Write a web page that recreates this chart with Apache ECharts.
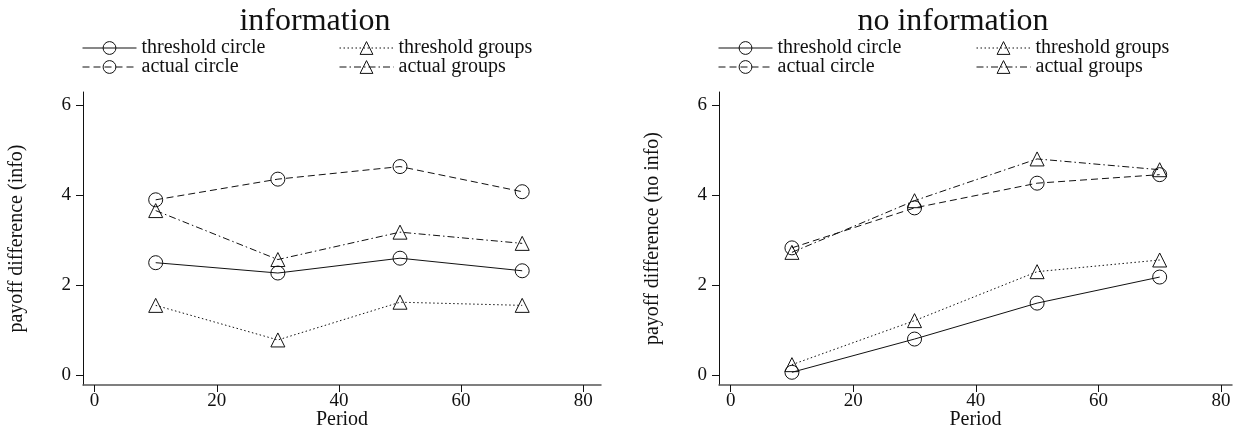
<!DOCTYPE html>
<html>
<head>
<meta charset="utf-8">
<script src="https://cdn.jsdelivr.net/npm/echarts@6/dist/echarts.min.js"></script>
<style>
  html, body { margin: 0; padding: 0; background: #fff; }
  #chart { width: 1238px; height: 432px; }
</style>
</head>
<body>
<div id="chart"></div>
<script>
// periods on the x axis
const periods = [10, 30, 50, 70];
const xTicks = [0, 20, 40, 60, 80];
const yTicks = [0, 2, 4, 6];

// left panel: information
const infoThresholdCircle = [2.50, 2.27, 2.60, 2.32];
const infoThresholdGroups = [1.55, 0.78, 1.62, 1.55];
const infoActualCircle = [3.90, 4.36, 4.64, 4.08];
const infoActualGroups = [3.66, 2.57, 3.18, 2.93];

// right panel: no information
const noInfoThresholdCircle = [0.06, 0.80, 1.60, 2.18];
const noInfoThresholdGroups = [0.23, 1.21, 2.30, 2.56];
const noInfoActualCircle = [2.83, 3.72, 4.27, 4.46];
const noInfoActualGroups = [2.73, 3.88, 4.81, 4.57];

const FONT = 'Liberation Serif';
const INK = '#111';

const pairs = (ys) => periods.map((x, i) => [x, ys[i]]);

// dash patterns: solid, dotted, dashed, dash-dot
const dashes = {
  'threshold circle': 'solid',
  'threshold groups': [1.5, 2.5],
  'actual circle': [7, 4],
  'actual groups': [7, 3, 1.5, 3]
};
const symbols = {
  'threshold circle': 'circle',
  'threshold groups': 'triangle',
  'actual circle': 'circle',
  'actual groups': 'triangle'
};

const makeSeries = (name, ys, idx) => ({
  name: name,
  type: 'line',
  xAxisIndex: idx,
  yAxisIndex: idx,
  data: pairs(ys),
  symbol: symbols[name],
  symbolSize: 14,
  showSymbol: true,
  animation: false,
  itemStyle: { color: 'rgba(0,0,0,0)', borderColor: INK, borderWidth: 1 },
  lineStyle: { color: INK, width: 1, type: dashes[name] },
  emphasis: { disabled: true }
});

const makeX = (idx, max) => ({
  type: 'value',
  gridIndex: idx,
  min: -1.9,
  max: max,
  name: 'Period',
  nameLocation: 'middle',
  nameGap: 25,
  nameMoveOverlap: false,
  nameTextStyle: { fontFamily: FONT, fontSize: 20, color: INK },
  axisLine: { onZero: false, lineStyle: { color: '#555', width: 1.5 } },
  axisTick: { show: true, length: 7, customValues: xTicks, lineStyle: { color: INK } },
  axisLabel: { customValues: xTicks, fontFamily: FONT, fontSize: 19, color: INK, margin: 7 },
  splitLine: { show: false }
});

const makeY = (idx, name) => ({
  type: 'value',
  gridIndex: idx,
  min: -0.223,
  max: 6.3,
  name: name,
  nameLocation: 'middle',
  nameGap: 56,
  nameMoveOverlap: false,
  nameTextStyle: { fontFamily: FONT, fontSize: 20, color: INK },
  axisLine: { show: true, onZero: false, lineStyle: { color: INK, width: 1 } },
  axisTick: { show: true, length: 7, customValues: yTicks, lineStyle: { color: INK } },
  axisLabel: { customValues: yTicks, fontFamily: FONT, fontSize: 19, color: INK, margin: 12 },
  splitLine: { show: false }
});

// one legend per entry so the rows sit where the reference puts them
const makeLegend = (left, top, name) => ({
  left: left,
  top: top,
  padding: 0,
  itemWidth: 54,
  itemHeight: 16,
  selectedMode: false,
  data: [name],
  itemStyle: { borderWidth: 1 },
  lineStyle: { width: 1 },
  textStyle: { fontFamily: FONT, fontSize: 20, color: INK }
});

const makeTitle = (text, center) => ({
  text: text,
  left: center,
  textAlign: 'center',
  top: 1,
  textStyle: { fontFamily: FONT, fontSize: 32, fontWeight: 'normal', color: INK }
});

const row1 = 38, row2 = 57;

const chart = echarts.init(document.getElementById('chart'), null, { renderer: 'canvas' });

chart.setOption({
  backgroundColor: '#fff',
  animation: false,
  title: [makeTitle('information', 310), makeTitle('no information', 948)],
  legend: [
    makeLegend(82, row1, 'threshold circle'),
    makeLegend(82, row2, 'actual circle'),
    makeLegend(339, row1, 'threshold groups'),
    makeLegend(339, row2, 'actual groups'),
    makeLegend(718, row1, 'threshold circle'),
    makeLegend(718, row2, 'actual circle'),
    makeLegend(976, row1, 'threshold groups'),
    makeLegend(976, row2, 'actual groups')
  ],
  grid: [
    { left: 83, top: 92, width: 518, height: 293, outerBoundsMode: 'none' },
    { left: 719, top: 92, width: 513, height: 293, outerBoundsMode: 'none' }
  ],
  xAxis: [makeX(0, 82.9), makeX(1, 81.8)],
  yAxis: [makeY(0, 'payoff difference (info)'), makeY(1, 'payoff difference (no info)')],
  series: [
    makeSeries('threshold circle', infoThresholdCircle, 0),
    makeSeries('threshold groups', infoThresholdGroups, 0),
    makeSeries('actual circle', infoActualCircle, 0),
    makeSeries('actual groups', infoActualGroups, 0),
    makeSeries('threshold circle', noInfoThresholdCircle, 1),
    makeSeries('threshold groups', noInfoThresholdGroups, 1),
    makeSeries('actual circle', noInfoActualCircle, 1),
    makeSeries('actual groups', noInfoActualGroups, 1)
  ]
});
</script>
</body>
</html>
